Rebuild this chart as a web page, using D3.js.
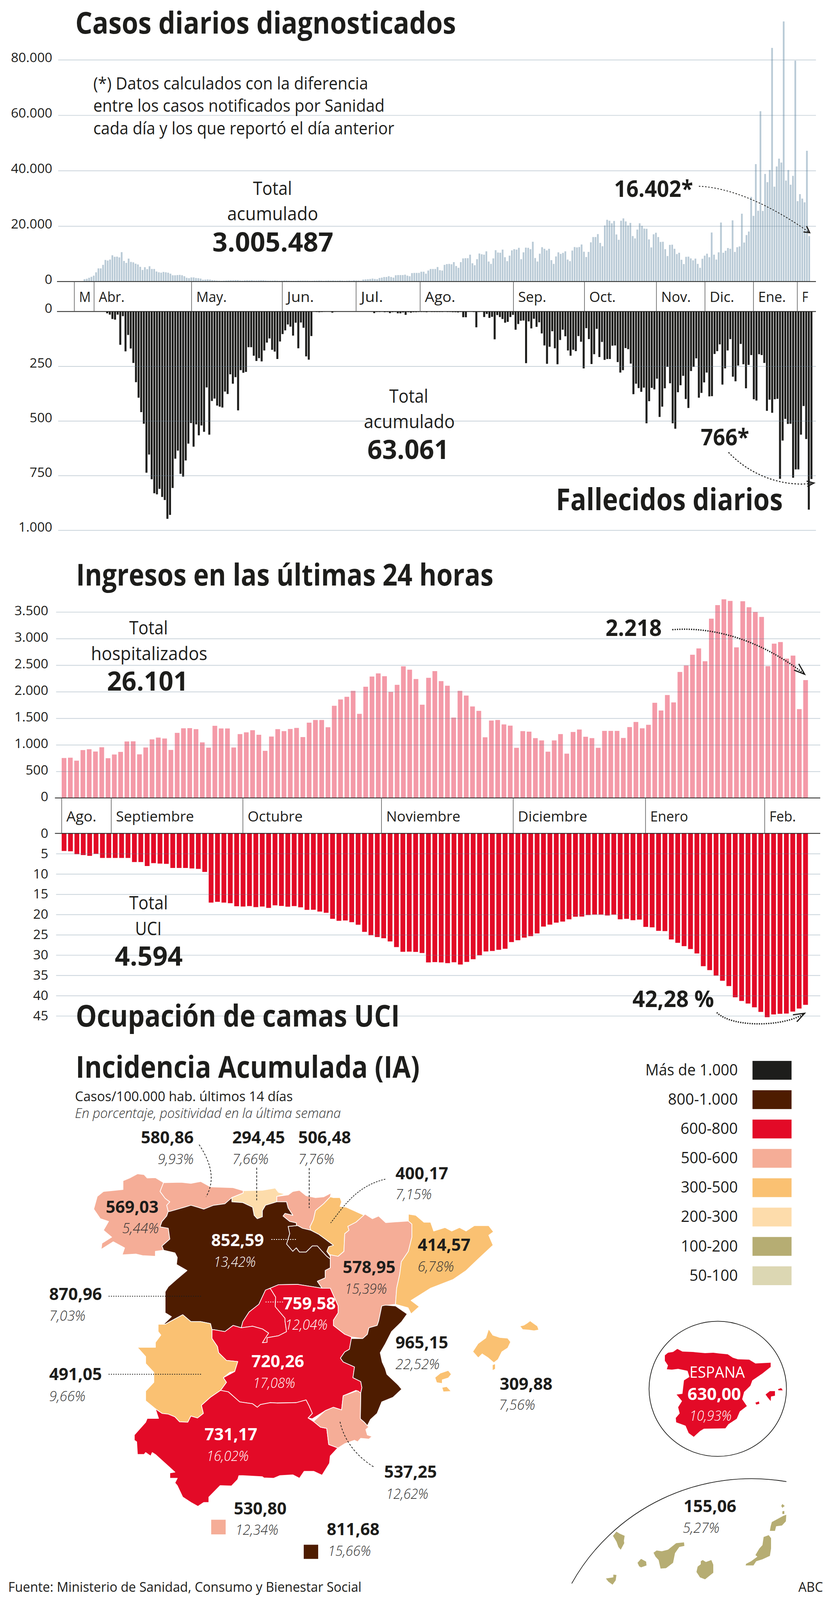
<!DOCTYPE html>
<html lang="es">
<head>
<meta charset="utf-8">
<title>Casos diarios diagnosticados</title>
<script src="https://cdn.jsdelivr.net/npm/d3@7/dist/d3.min.js"></script>
<style>
  html, body { margin: 0; background: #fff; overflow: hidden; }
  svg { display: block; }
  text { font-family: "Open Sans", "Noto Sans", sans-serif; }
</style>
</head>
<body>
<svg width="2126" height="4167" viewBox="0 0 2126 4167" preserveAspectRatio="none"></svg>
<script>
// daily cases, March 2020 to February 2021
const casesDaily = [850,990,1340,1700,2120,3320,4740,4740,6010,7780,7560,7920,9470,8910,8980,8700,10600,7420,6720,8270,7070,6930,6430,6150,5300,4170,5160,4450,5510,4520,4520,3610,3320,3180,3460,3320,3180,2830,2260,2260,2330,2400,2260,1910,1340,1200,1480,1480,1270,1200,1060,640,710,780,710,
  500,450,350,300,250,300,350,400,450,450,500,500,350,300,400,450,400,450,350,350,400,450,450,350,300,300,300,350,300,250,300,350,350,300,250,250,250,300,300,300,300,300,250,250,300,300,350,300,250,300,350,300,350,300,300,350,300,250,300,350,
  280,420,350,350,280,710,780,850,920,1060,920,850,1270,1410,1630,1630,1910,1630,1410,2260,2330,2330,2330,2470,2120,
  1900,3040,3110,3110,3110,3540,3540,2830,3960,4520,4520,4520,5230,4100,3960,6010,6290,6360,6220,7000,5590,4950,7000,8340,8410,8410,9690,6580,5870,8060,10110,9830,9690,10890,7210,6360,8340,11310,10460,10390,11520,8770,7350,9330,11240,11670,11520,12160,8060,10530,12230,12160,11670,14350,8480,7210,10040,12370,11810,11240,11810,7710,6360,9050,10530,9970,10320,10890,7920,7350,11170,12440,12300,12440,13360,10750,8840,10680,14140,16050,16050,17110,13930,12730,20220,22270,21920,21000,21850,16970,15060,21920,22770,21700,20220,21140,16400,15550,18740,21000,20080,19090,19020,15200,12300,17040,17600,16050,14280,14350,11670,9190,13220,13290,11810,9900,10390,7850,6290,8910,8980,8340,7640,8270,6360,4950,8200,9330,10040,8770,17680,9690,7920,10530,21280,10390,11100,12090,11810,22060,10680,12370,12660,24460,14070,16760,18030,30540,23680,42350,25520,61440,25450,38810,35840,40230,84270,34220,41500,44330,42910,93820,36410,40230,34930,38110,79680,28990,31530,29910,28560,47160,16402];

const deathsDaily = [8,14,34,37,14,152,21,182,107,169,235,323,394,460,513,737,654,767,831,836,811,848,862,948,930,807,673,636,742,755,681,604,510,618,516,566,521,550,347,563,409,398,430,435,439,366,377,287,330,300,452,268,280,276,163,163,202,226,213,228,178,142,123,175,183,217,137,103,86,59,69,110,51,168,50,74,205,220,112,
  1,2,3,2,1,0,0,5,1,0,0,0,0,0,0,0,0,0,0,0,0,0,1,7,2,2,1,3,2,7,3,2,8,8,4,15,3,5,3,
  3,2,2,2,3,1,2,2,2,2,2,1,2,2,3,3,4,2,
  26,26,1,1,2,72,2,0,25,11,29,24,127,16,25,34,51,47,25,15,83,57,42,41,236,45,77,33,70,49,100,155,239,161,90,168,241,130,83,113,178,202,175,181,112,138,260,76,126,240,195,79,208,139,221,217,217,156,155,231,279,268,167,172,238,378,330,350,367,348,511,410,349,356,307,482,435,351,253,328,511,536,369,337,294,400,441,272,253,214,394,372,324,279,388,387,194,181,150,334,260,178,126,298,319,247,148,241,351,244,199,401,407,195,199,235,454,403,463,401,399,765,590,491,514,513,760,722,722,563,432,583,906,766];

const admissionsDaily = [752,758,702,901,917,874,954,748,818,867,1063,1066,821,950,1103,1136,1119,904,1225,1311,1314,1295,1046,947,1358,1308,1308,950,1202,1235,1275,1189,887,1156,1295,1258,1298,1318,1146,1417,1467,1467,1331,1735,1854,1904,2016,1583,2093,2285,2344,2291,1997,2129,2477,2414,2238,1755,2261,2387,2199,2112,1513,2016,1927,1722,1639,1142,1457,1467,1384,1361,944,1258,1248,1126,1083,871,1083,1202,834,1242,1288,1152,1126,944,1262,1262,1262,1129,1334,1430,1311,1377,1791,1646,1937,1798,2371,2493,2695,2814,2573,3374,3629,3738,3708,2834,3702,3589,3500,3407,2480,2904,2934,2622,2679,1672,2218];

const icuOccupancy = [4.34,4.42,5.13,5.35,5.54,5.05,6.06,6.06,6.06,6.06,6.06,7.07,7.07,8.05,7.34,7.45,7.52,8.53,8.53,8.53,8.65,8.76,9.51,17.07,16.88,17.07,17.22,17.97,18.04,17.93,18.19,18.04,18.38,17.74,17.89,18.08,17.93,18.23,18.86,18.83,19.28,19.58,21.07,21.56,21.48,21.9,22.53,24.29,25.12,25.56,25.86,26.65,28.04,29.2,29.16,29.23,29.5,31.82,31.74,31.82,32,31.78,32.34,31.7,31.03,30.06,29.12,29,28.71,28.45,26.8,26.35,25.71,25.34,24.67,22.98,22.5,22.01,21.75,21.19,20.55,20.51,20.14,20.02,20.02,20.25,20.02,21.19,21.07,21.41,21.26,23.06,23.17,24.03,24.1,26.16,26.99,27.81,28.52,29.61,32.75,33.72,35.07,36.34,37.65,40.42,41.32,41.96,42.89,44.02,45.33,44.65,44.5,44.43,43.94,43.19,42.28];

const casesTicks = [0, 20000, 40000, 60000, 80000];
const deathsTicks = [0, 250, 500, 750, 1000];
const admissionsTicks = [0, 500, 1000, 1500, 2000, 2500, 3000, 3500];
const icuTicks = [0, 5, 10, 15, 20, 25, 30, 35, 40, 45];

// month separators, given as bar position on each chart's own x scale
const yearMonths = ["M", "Abr.", "May.", "Jun.", "Jul.", "Ago.", "Sep.", "Oct.", "Nov.", "Dic.", "Ene.", "F"];
const yearMonthBreaks = [-4, 4.5, 46.5, 85.6, 117.4, 145, 185.2, 215.8, 246.8, 267.7, 288.6, 307.5];
const yearMonthWidths = [30, 66, 78, 69, 57, 78, 72, 68, 76, 63, 71, 16];
const lateMonths = ["Ago.", "Septiembre", "Octubre", "Noviembre", "Diciembre", "Enero", "Feb."];
const lateMonthBreaks = [0, 7.9, 28.9, 51, 72, 93.1, 112.1];
const lateMonthWidths = [77, 200, 141, 190, 178, 97, 68];

const regionNames = ["Galicia", "Asturias", "Cantabria", "País Vasco", "Navarra", "La Rioja", "Castilla y León", "Aragón", "Cataluña", "Madrid", "Castilla-La Mancha", "C. Valenciana", "Extremadura", "Andalucía", "Murcia", "Baleares", "Ceuta", "Melilla", "Canarias"];
const regionIncidence = [569.03, 580.86, 294.45, 506.48, 400.17, 852.59, 870.96, 578.95, 414.57, 759.58, 720.26, 965.15, 491.05, 731.17, 537.25, 309.88, 530.80, 811.68, 155.06];
const regionPositivity = [5.44, 9.93, 7.66, 7.76, 7.15, 13.42, 7.03, 15.39, 6.78, 12.04, 17.08, 22.52, 9.66, 16.02, 12.62, 7.56, 12.34, 15.66, 5.27];
const spainIncidence = 630.00;
const spainPositivity = 10.93;

const legendLabels = ["Más de 1.000", "800-1.000", "600-800", "500-600", "300-500", "200-300", "100-200", "50-100"];
const legendColors = ["#1d1d1b", "#4e1c00", "#e30a27", "#f5ad97", "#fac172", "#fddcab", "#b6ad73", "#dcd7b3"];
const legendWidths = [237, 179, 147, 146, 146, 146, 146, 124];

// map outlines, traced by hand in page units
const regionShapes = [
  [[[352,3057],[369,3059],[377,3068],[398,3067],[419,3080],[410,3103],[423,3121],[435,3130],[427,3139],[431,3155],[427,3167],[415,3181],[410,3195],[431,3199],[435,3227],[415,3245],[419,3256],[398,3259],[398,3272],[365,3270],[348,3266],[313,3268],[319,3250],[290,3234],[259,3254],[261,3238],[286,3222],[265,3204],[278,3181],[257,3174],[240,3149],[249,3116],[265,3103],[315,3098],[315,3075],[332,3068]]],
  [[[419,3080],[464,3079],[489,3082],[514,3077],[539,3091],[597,3093],[623,3101],[623,3107],[594,3119],[576,3135],[547,3139],[522,3149],[506,3144],[489,3139],[473,3144],[435,3155],[431,3155],[427,3139],[435,3130],[423,3121],[410,3103]]],
  [[[623,3101],[672,3100],[705,3094],[713,3105],[730,3110],[709,3116],[709,3130],[680,3139],[672,3153],[672,3169],[659,3174],[651,3165],[647,3144],[622,3132],[594,3130],[594,3119],[623,3107]]],
  [[[709,3116],[738,3112],[750,3103],[767,3100],[784,3114],[808,3119],[829,3117],[848,3107],[846,3117],[829,3135],[808,3153],[803,3176],[794,3195],[796,3204],[775,3199],[763,3192],[759,3192],[759,3185],[742,3181],[725,3167],[730,3160],[750,3165],[738,3146],[734,3130],[709,3130]]],
  [[[854,3119],[871,3119],[875,3130],[871,3142],[887,3144],[933,3165],[912,3183],[891,3194],[894,3204],[883,3213],[881,3259],[866,3272],[846,3268],[837,3259],[842,3247],[854,3243],[833,3227],[817,3215],[796,3204],[794,3195],[803,3176],[808,3153],[829,3135],[846,3117]]],
  [[[738,3194],[759,3192],[763,3192],[775,3199],[796,3204],[817,3215],[833,3227],[854,3243],[842,3247],[837,3259],[846,3272],[846,3279],[837,3272],[825,3259],[813,3245],[800,3245],[784,3261],[767,3261],[759,3250],[750,3259],[734,3240],[742,3213]]],
  [[[435,3155],[473,3144],[489,3139],[506,3144],[522,3149],[547,3139],[576,3135],[594,3119],[594,3130],[622,3132],[647,3144],[651,3165],[659,3174],[672,3169],[672,3153],[680,3139],[709,3130],[734,3130],[738,3146],[750,3165],[730,3160],[725,3167],[742,3181],[759,3185],[759,3192],[738,3194],[742,3213],[734,3240],[750,3259],[759,3250],[767,3261],[784,3261],[800,3245],[813,3245],[825,3259],[837,3272],[846,3279],[846,3302],[833,3309],[833,3328],[813,3337],[825,3355],[763,3345],[713,3346],[692,3355],[680,3360],[663,3397],[638,3417],[622,3442],[618,3458],[597,3452],[576,3468],[547,3463],[543,3463],[539,3447],[514,3442],[489,3442],[468,3424],[439,3440],[423,3449],[419,3449],[439,3429],[423,3419],[423,3364],[431,3351],[452,3332],[479,3309],[452,3293],[454,3275],[448,3263],[419,3256],[415,3245],[435,3227],[431,3199],[410,3195],[415,3181],[427,3167],[431,3155]]],
  [[[935,3162],[954,3174],[970,3167],[988,3184],[1046,3180],[1055,3188],[1055,3222],[1046,3259],[1028,3286],[1024,3318],[1016,3355],[1013,3397],[978,3401],[970,3440],[966,3452],[945,3458],[941,3475],[929,3486],[900,3482],[883,3475],[854,3452],[854,3438],[866,3419],[866,3401],[846,3355],[825,3355],[813,3337],[833,3328],[833,3309],[846,3302],[846,3279],[846,3268],[866,3272],[881,3259],[883,3213],[894,3204],[891,3194],[912,3183]]],
  [[[1046,3162],[1065,3165],[1086,3183],[1103,3183],[1111,3206],[1140,3197],[1157,3206],[1177,3197],[1194,3206],[1215,3192],[1252,3192],[1264,3208],[1252,3217],[1263,3243],[1227,3277],[1194,3309],[1161,3332],[1103,3355],[1053,3387],[1074,3403],[1053,3422],[1045,3406],[1013,3397],[1016,3355],[1024,3318],[1028,3286],[1046,3259],[1055,3222],[1055,3188],[1046,3180]]],
  [[[680,3360],[692,3355],[706,3378],[705,3403],[730,3433],[730,3440],[734,3468],[713,3479],[684,3484],[684,3496],[672,3497],[680,3484],[688,3472],[672,3461],[647,3454],[618,3458],[622,3442],[638,3417],[663,3397]]],
  [[[692,3355],[713,3346],[763,3345],[825,3355],[846,3355],[866,3401],[866,3419],[854,3438],[854,3452],[883,3475],[900,3482],[900,3486],[895,3514],[883,3521],[872,3537],[879,3547],[908,3560],[904,3588],[924,3598],[927,3614],[924,3628],[912,3621],[879,3635],[875,3672],[854,3665],[833,3674],[800,3695],[789,3693],[800,3681],[792,3662],[784,3646],[759,3653],[709,3654],[692,3653],[667,3658],[659,3665],[647,3656],[614,3651],[585,3625],[565,3621],[580,3600],[572,3588],[601,3572],[609,3546],[580,3543],[560,3523],[557,3507],[543,3486],[543,3463],[547,3463],[576,3468],[597,3452],[618,3458],[647,3454],[672,3461],[688,3472],[680,3484],[672,3497],[684,3496],[684,3484],[713,3479],[734,3468],[730,3440],[730,3433],[705,3403],[706,3378]]],
  [[[987,3399],[1013,3401],[1043,3422],[1029,3442],[1003,3468],[987,3500],[974,3523],[979,3547],[987,3565],[991,3579],[1020,3607],[1029,3618],[1007,3639],[978,3651],[966,3681],[949,3697],[941,3713],[933,3704],[923,3695],[924,3628],[927,3614],[924,3598],[904,3588],[908,3560],[879,3547],[872,3537],[883,3521],[895,3514],[900,3486],[929,3486],[941,3475],[945,3458],[966,3452],[970,3440],[978,3401]]],
  [[[468,3424],[489,3442],[514,3442],[539,3447],[543,3463],[543,3486],[557,3507],[560,3523],[580,3543],[609,3546],[601,3572],[589,3574],[572,3588],[580,3600],[565,3621],[539,3639],[516,3660],[521,3681],[506,3693],[489,3688],[481,3704],[460,3703],[448,3690],[431,3683],[415,3681],[398,3669],[373,3648],[373,3623],[394,3600],[394,3574],[373,3551],[373,3533],[352,3509],[398,3509],[398,3496],[412,3477],[405,3468],[405,3449],[423,3449],[439,3440]]],
  [[[398,3669],[415,3681],[431,3683],[448,3690],[460,3703],[481,3704],[489,3688],[506,3693],[521,3681],[516,3660],[539,3639],[565,3621],[585,3625],[614,3651],[647,3656],[659,3665],[667,3658],[692,3653],[709,3654],[759,3653],[784,3646],[792,3662],[800,3681],[789,3693],[803,3702],[821,3717],[837,3720],[842,3762],[865,3771],[846,3792],[844,3811],[825,3842],[804,3832],[779,3832],[767,3850],[750,3841],[717,3843],[701,3850],[676,3849],[672,3846],[622,3843],[612,3843],[609,3853],[593,3870],[564,3869],[535,3899],[535,3913],[522,3913],[507,3923],[489,3913],[468,3899],[454,3869],[448,3862],[454,3850],[435,3850],[435,3836],[448,3834],[398,3788],[390,3783],[386,3792],[373,3783],[369,3788],[352,3788],[350,3755],[344,3751],[344,3737],[373,3704],[377,3694],[406,3694]]],
  [[[916,3622],[924,3628],[923,3695],[933,3704],[941,3713],[945,3716],[937,3723],[941,3737],[953,3741],[945,3748],[924,3746],[916,3755],[908,3751],[883,3760],[866,3771],[842,3762],[837,3720],[821,3717],[803,3702],[833,3674],[854,3665],[875,3672],[879,3635]]],
  [[[1212,3520],[1225,3500],[1245,3485],[1252,3463],[1262,3478],[1280,3484],[1300,3486],[1307,3495],[1300,3510],[1285,3520],[1275,3540],[1265,3548],[1250,3535],[1235,3525],[1225,3535]],
   [[1262,3555],[1268,3553],[1268,3565],[1262,3568]],
   [[1115,3588],[1128,3577],[1148,3570],[1155,3579],[1148,3588],[1132,3593],[1132,3602],[1119,3600]],
   [[1133,3614],[1144,3612],[1154,3623],[1136,3624]],
   [[1333,3454],[1342,3452],[1350,3447],[1358,3441],[1366,3447],[1376,3454],[1379,3463],[1368,3465],[1353,3463],[1339,3462],[1336,3458]]],
  [[[541,3958],[578,3958],[578,3996],[541,3996]]],
  [[[778,4023],[815,4023],[815,4060],[778,4060]]],
  [[[1570,4000],[1579,3989],[1587,3994],[1600,4000],[1598,4013],[1599,4019],[1590,4036],[1584,4029],[1579,4015]],
   [[1633,4070],[1642,4060],[1655,4067],[1656,4077],[1642,4082],[1637,4079]],
   [[1674,4044],[1682,4038],[1695,4040],[1711,4036],[1732,4019],[1752,4017],[1753,4026],[1740,4029],[1729,4045],[1724,4070],[1706,4084],[1692,4085],[1687,4063],[1679,4054]],
   [[1552,4111],[1571,4108],[1571,4101],[1579,4102],[1577,4116],[1569,4127],[1558,4119]],
   [[1795,4066],[1800,4063],[1808,4068],[1822,4063],[1827,4075],[1827,4096],[1806,4113],[1793,4108],[1784,4094],[1787,4080],[1795,4074]],
   [[1956,4003],[1969,3998],[1975,4006],[1975,4033],[1972,4052],[1953,4061],[1937,4066],[1930,4077],[1910,4077],[1911,4073],[1924,4066],[1940,4054],[1935,4050],[1945,4033],[1953,4024]],
   [[1977,3964],[1990,3957],[2006,3948],[2014,3945],[2013,3962],[2003,3973],[1988,3975],[1985,3987],[1972,3987],[1974,3975]],
   [[2001,3922],[2004,3917],[2010,3922],[2004,3927]],
   [[2004,3936],[2009,3935],[2009,3943],[2004,3943]]]
];
const spainShape = [
  [[1703,3530],[1711,3523],[1724,3521],[1735,3513],[1748,3520],[1774,3521],[1806,3524],[1827,3523],[1843,3525],[1864,3527],[1877,3536],[1890,3540],[1919,3541],[1935,3551],[1974,3549],[1974,3560],[1953,3577],[1927,3595],[1922,3609],[1906,3625],[1901,3644],[1913,3662],[1895,3676],[1887,3695],[1866,3709],[1858,3720],[1803,3721],[1793,3727],[1777,3742],[1764,3732],[1756,3713],[1732,3704],[1731,3693],[1741,3681],[1737,3665],[1747,3649],[1733,3632],[1748,3630],[1752,3595],[1766,3586],[1761,3570],[1737,3565],[1721,3567],[1708,3566],[1711,3556],[1703,3544]],
  [[1961,3632],[1972,3623],[1985,3623],[1985,3635],[1975,3637],[1974,3649],[1966,3639]],
  [[1993,3618],[2001,3615],[2005,3621],[1994,3621]],
  [[1935,3653],[1944,3650],[1945,3656],[1937,3658]]
];

const ink = "#1d1d1b";
const gridColor = "rgba(100,130,150,0.35)";
// the window can come out shorter than the drawing, so squeeze the drawing to whatever height we got
const svg = d3.select("svg").attr("height", window.innerHeight);
const es = d3.formatLocale({ decimal: ",", thousands: ".", grouping: [3], currency: ["", "€"] });
const fmtInt = es.format(",d");
const fmtDec = es.format(",.2f");

// text helper: the fonts here run wider than the original, so fit to a measured width
function put(str, x, y, size, width, opts) {
  opts = opts || {};
  const t = svg.append("text")
    .attr("x", x)
    .attr("y", y)
    .attr("font-size", size)
    .attr("font-weight", opts.weight || 400)
    .attr("font-style", opts.italic ? "italic" : "normal")
    .attr("fill", opts.fill || ink)
    .text(str);
  if (width) t.attr("textLength", width).attr("lengthAdjust", "spacingAndGlyphs");
  return t;
}

function barChart(c) {
  const x = d3.scaleBand().domain(d3.range(c.values.length)).range(c.barRange).paddingInner(c.gap);
  const y = d3.scaleLinear().domain([0, c.max]).range([c.zeroY, c.maxY]);
  svg.append("g").selectAll("rect")
    .data(c.values)
    .enter()
    .append("rect")
    .attr("x", (d, i) => x(i))
    .attr("width", x.bandwidth())
    .attr("y", d => Math.min(y(0), y(d)))
    .attr("height", d => Math.abs(y(d) - y(0)))
    .attr("fill", c.color);

  const axis = d3.axisLeft(y).tickValues(c.ticks).tickFormat(fmtInt)
    .tickSize(-(c.gridRight - c.gridLeft)).tickPadding(c.labelPad);
  const g = svg.append("g").attr("transform", `translate(${c.gridLeft},0)`).call(axis);
  g.select(".domain").remove();
  g.selectAll(".tick line").attr("stroke", gridColor).attr("stroke-width", 2);
  g.selectAll(".tick text")
    .attr("font-size", 34)
    .attr("font-family", null)
    .attr("fill", ink)
    .attr("dy", 0)
    .attr("y", c.labelDy);
  // no grid line on the zero, that one is the dark base line
  g.selectAll(".tick").filter(d => d === 0).select("line").remove();
  svg.append("line")
    .attr("x1", c.gridLeft - 3).attr("x2", c.gridRight)
    .attr("y1", y(0)).attr("y2", y(0))
    .attr("stroke", ink).attr("stroke-width", 2);
}

function monthBand(c) {
  const xm = d3.scaleLinear().domain([0, c.count]).range(c.barRange);
  const g = svg.append("g");
  g.selectAll("line")
    .data(c.breaks)
    .enter()
    .append("line")
    .attr("x1", d => xm(d)).attr("x2", d => xm(d))
    .attr("y1", c.y0).attr("y2", c.y1)
    .attr("stroke", "#555").attr("stroke-width", 1.5);
  c.labels.forEach((m, i) => put(m, xm(c.breaks[i]) + 12, c.baseline, 37, c.widths[i]));
}

function arrow(a) {
  const p = d3.path();
  p.moveTo(a.from[0], a.from[1]);
  p.bezierCurveTo(a.c1[0], a.c1[1], a.c2[0], a.c2[1], a.to[0], a.to[1]);
  svg.append("path").attr("d", p.toString()).attr("fill", "none")
    .attr("stroke", ink).attr("stroke-width", a.w).attr("stroke-dasharray", a.dash);
  const h = d3.path();
  h.moveTo(a.head[0][0], a.head[0][1]);
  h.lineTo(a.to[0], a.to[1]);
  h.lineTo(a.head[1][0], a.head[1][1]);
  svg.append("path").attr("d", h.toString()).attr("fill", "none")
    .attr("stroke", ink).attr("stroke-width", 3);
}

// ---- Casos diarios
const casesRange = [214.2, 2075];
barChart({ values: casesDaily, barRange: casesRange, gap: 0.26, max: 80000, zeroY: 733.2, maxY: 155.6, color: "#b9cad6",
  ticks: casesTicks, gridLeft: 149, gridRight: 2090, labelPad: 15, labelDy: 6 });
// ---- Fallecidos diarios
barChart({ values: deathsDaily, barRange: [272, 2081], gap: 0.24, max: 1000, zeroY: 811.4, maxY: 1380.8, color: ink,
  ticks: deathsTicks, gridLeft: 149, gridRight: 2090, labelPad: 15, labelDy: 3 });
monthBand({ count: casesDaily.length, barRange: casesRange, breaks: yearMonthBreaks, labels: yearMonths, widths: yearMonthWidths, y0: 733.2, y1: 811.4, baseline: 786 });

// ---- Ingresos
const lateRange = [158, 2069.5];
barChart({ values: admissionsDaily, barRange: lateRange, gap: 0.25, max: 3500, zeroY: 2078.2, maxY: 1593.8, color: "#f49aa8",
  ticks: admissionsTicks, gridLeft: 143.7, gridRight: 2101, labelPad: 20, labelDy: 8 });
// ---- UCI
barChart({ values: icuOccupancy, barRange: lateRange, gap: 0.25, max: 45, zeroY: 2170.4, maxY: 2645.7, color: "#e30a27",
  ticks: icuTicks, gridLeft: 143.7, gridRight: 2101, labelPad: 20, labelDy: 11 });
monthBand({ count: admissionsDaily.length, barRange: lateRange, breaks: lateMonthBreaks, labels: lateMonths, widths: lateMonthWidths, y0: 2078.2, y1: 2170.4, baseline: 2139 });

// titles and notes
put("Casos diarios diagnosticados", 193, 88, 78, 975, { weight: 700 });
put("Fallecidos diarios", 1424, 1329, 78, 581, { weight: 700 });
put("Ingresos en las últimas 24 horas", 195, 1525, 78, 1069, { weight: 700 });
put("Ocupación de camas UCI", 194, 2674, 78, 830, { weight: 700 });
put("Incidencia Acumulada (IA)", 194, 2807, 78, 881, { weight: 700 });

put("(*) Datos calculados con la diferencia", 239, 233, 44, 704);
put("entre los casos notificados por Sanidad", 239, 291, 44, 746);
put("cada día y los que reportó el día anterior", 239, 349.5, 44, 771);

put("Total", 648, 508, 48, 100);
put("acumulado", 582, 574, 48, 233);
put("3.005.487", 544, 655, 70, 310, { weight: 700 });
put("Total", 997, 1049, 48, 100);
put("acumulado", 932, 1115, 48, 233);
put("63.061", 941, 1195, 70, 209, { weight: 700 });
put("Total", 331, 1652, 48, 99);
put("hospitalizados", 233, 1719, 48, 298);
put("26.101", 274, 1799, 70, 208, { weight: 700 });
put("Total", 331, 2368, 48, 99);
put("UCI", 346, 2436, 48, 68);
put("4.594", 294, 2515, 70, 174, { weight: 700 });

put("16.402*", 1573, 513, 60, 202, { weight: 700 });
put("766*", 1795, 1160, 60, 124, { weight: 700 });
put("2.218", 1551, 1656, 60, 144, { weight: 700 });
put("42,28 %", 1620, 2623, 60, 209, { weight: 700 });

const arrows = [
  { from: [1790, 485], c1: [1897, 490], c2: [2012, 561], to: [2074, 606], head: [[2058, 604], [2066, 589]], w: 2, dash: "4 4" },
  { from: [1866, 1178], c1: [1924, 1241], c2: [2012, 1270], to: [2085, 1258], head: [[2066, 1253], [2068, 1267]], w: 2.5, dash: "4 4" },
  { from: [1722, 1640], c1: [1843, 1630], c2: [1965, 1679], to: [2061, 1756], head: [[2046, 1729], [2034, 1745]], w: 3.5, dash: "3 3" },
  { from: [1836, 2637], c1: [1877, 2678], c2: [2012, 2674], to: [2061, 2639], head: [[2031, 2643], [2041, 2661]], w: 3.5, dash: "3 3" }
];
arrows.forEach(arrow);

// ---- Mapa
put("Casos/100.000 hab. últimos 14 días", 192, 2868, 36, 558);
put("En porcentaje, positividad en la última semana", 192, 2912, 36, 681, { italic: true, weight: 300, fill: "#333" });

const colorScale = d3.scaleThreshold()
  .domain([100, 200, 300, 500, 600, 800, 1000])
  .range(legendColors.slice().reverse());

const mapPath = d3.geoPath(d3.geoIdentity());
const ringFeature = rings => ({ type: "Feature", geometry: { type: "MultiPolygon", coordinates: rings.map(r => [r.concat([r[0]])]) } });

svg.append("g").selectAll("path")
  .data(regionNames.map((name, i) => ({ name: name, value: regionIncidence[i], feature: ringFeature(regionShapes[i]) })))
  .enter()
  .append("path")
  .attr("d", d => mapPath(d.feature))
  .attr("fill", d => colorScale(d.value))
  .attr("stroke", d => (d.name === "Ceuta" || d.name === "Melilla" || d.name === "Canarias" || d.name === "Baleares") ? "none" : "#fff")
  .attr("stroke-width", 1.8)
  .attr("stroke-linejoin", "round");

// label anchors, same order as regionNames: value x,y then percentage x,y, width
const labelSpots = [
  [271, 3159, 313, 3212, 94], [361, 2978, 404, 3032, 92], [595, 2978, 595, 3032, 93], [764, 2978, 764, 3032, 92],
  [1013, 3071, 1013, 3123, 93], [541, 3245, 547, 3299, 108], [126, 3386, 126, 3440, 93], [878, 3316, 883, 3369, 108],
  [1070, 3258, 1070, 3311, 93], [725, 3410, 730, 3463, 109], [644, 3561, 648, 3615, 108], [1013, 3512, 1013, 3566, 113],
  [126, 3594, 126, 3649, 93], [524, 3751, 529, 3805, 108], [984, 3849, 989, 3904, 108], [1280, 3620, 1278, 3672, 93],
  [599, 3944, 603, 3997, 110], [837, 3998, 840, 4052, 110], [1751, 3938, 1749, 3992, 94]
];
const whiteLabels = ["La Rioja", "Madrid", "Castilla-La Mancha", "Andalucía"];
regionNames.forEach((name, i) => {
  const s = labelSpots[i];
  const fill = whiteLabels.includes(name) ? "#fff" : ink;
  put(fmtDec(regionIncidence[i]), s[0], s[1], 43, 135, { weight: 700, fill: fill });
  put(fmtDec(regionPositivity[i]) + "%", s[2], s[3], 37, s[4], { italic: true, weight: 300, fill: fill === "#fff" ? "#fff" : "#333" });
});

// leader lines
const leaders = [
  { d: "M510,2981C547,3038 548,3080 528,3117", color: ink, dash: "5 4" },
  { d: "M657.5,3041V3126", color: ink, dash: "6 4" },
  { d: "M792,3042V3146", color: ink, dash: "6 4" },
  { d: "M987,3071C912,3089 879,3144 847,3185", color: ink, dash: "4 3" },
  { d: "M695,3228H759", color: "#fff", dash: "3 3" },
  { d: "M278,3376H516", color: ink, dash: "3 3" },
  { d: "M680,3391H725", color: "#fff", dash: "3 3" },
  { d: "M278,3579H516", color: ink, dash: "3 3" },
  { d: "M871,3703C879,3741 904,3788 960,3822", color: ink, dash: "5 4" }
];
svg.append("g").selectAll("path")
  .data(leaders)
  .enter()
  .append("path")
  .attr("d", d => d.d)
  .attr("fill", "none")
  .attr("stroke", d => d.color)
  .attr("stroke-width", 1.8)
  .attr("stroke-dasharray", d => d.dash);

// leyenda
const legendY = d3.scalePoint().domain(legendLabels).range([2763, 3298]);
svg.append("g").selectAll("rect")
  .data(legendLabels)
  .enter()
  .append("rect")
  .attr("x", 1927.5)
  .attr("y", d => legendY(d))
  .attr("width", 100)
  .attr("height", 49)
  .attr("fill", (d, i) => legendColors[i]);
legendLabels.forEach((l, i) => put(l, 1890 - legendWidths[i], legendY(l) + 37.5, 40, legendWidths[i]));

// España en círculo
svg.append("circle").attr("cx", 1838.5).attr("cy", 3617).attr("r", 176)
  .attr("fill", "none").attr("stroke", ink).attr("stroke-width", 1.8);
svg.append("path").attr("d", mapPath(ringFeature(spainShape))).attr("fill", colorScale(spainIncidence));
put("ESPANA", 1766, 3588, 40, 142, { fill: "#fff" });
put(fmtDec(spainIncidence), 1761, 3646, 43, 137, { weight: 700, fill: "#fff" });
put(fmtDec(spainPositivity) + "%", 1766, 3700, 37, 108, { italic: true, weight: 300, fill: "#fff" });

// arco de Canarias
const canaryArc = d3.arc().innerRadius(525).outerRadius(525).startAngle(-1.07).endAngle(0.171);
svg.append("path").attr("transform", "translate(1925,4376)").attr("d", canaryArc())
  .attr("fill", "none").attr("stroke", ink).attr("stroke-width", 1.8);

put("Fuente: Ministerio de Sanidad, Consumo y Bienestar Social", 21, 4146, 36, 905);
put("ABC", 2045, 4146, 36, 63);
</script>
</body>
</html>
